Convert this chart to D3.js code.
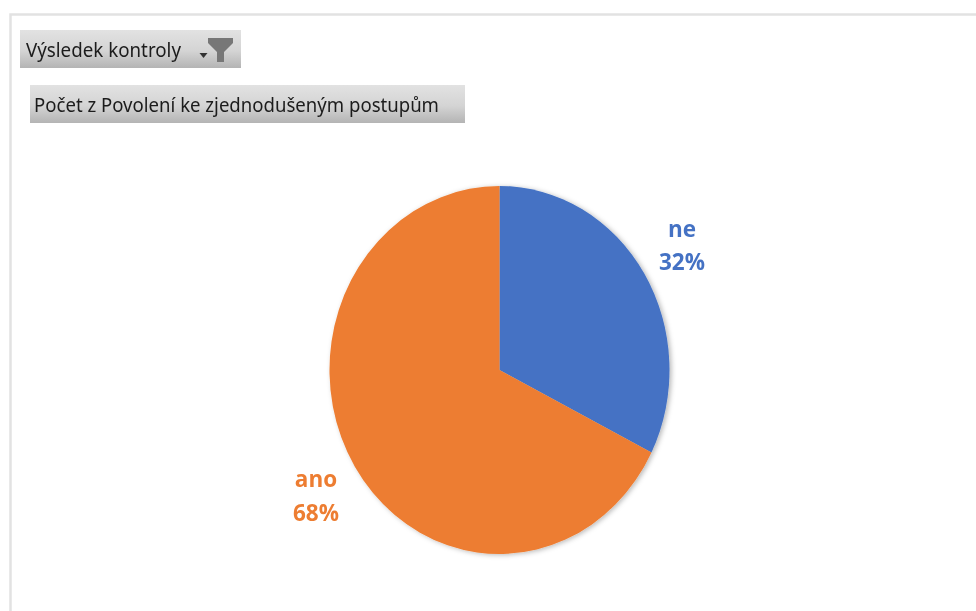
<!DOCTYPE html>
<html><head><meta charset="utf-8">
<script src="https://cdn.jsdelivr.net/npm/d3@7"></script>
<style>html,body{margin:0;padding:0;background:#fff;overflow:hidden}svg{display:block}</style>
</head><body><div id="c"></div>
<script>
const categories = ["ne", "ano"];
const values = [32.4, 67.6];
const percentLabels = ["32%", "68%"];
const colors = ["#4472c4", "#ed7d31"];
const filterTitle = "Výsledek kontroly";
const fieldTitle = "Počet z Povolení ke zjednodušeným postupům";

const svg = d3.select("#c").append("svg").attr("width", 976).attr("height", 611);
const defs = svg.append("defs");
const g1 = defs.append("linearGradient").attr("id", "btn").attr("x1", 0).attr("y1", 0).attr("x2", 0).attr("y2", 1);
g1.append("stop").attr("offset", "0%").attr("stop-color", "#e2e2e2");
g1.append("stop").attr("offset", "55%").attr("stop-color", "#d4d4d4");
g1.append("stop").attr("offset", "100%").attr("stop-color", "#b4b4b4");
const shadow = defs.append("filter").attr("id", "sh").attr("x", "-5%").attr("y", "-5%").attr("width", "110%").attr("height", "110%");
shadow.append("feDropShadow").attr("dx", 2).attr("dy", 1).attr("stdDeviation", 2.5)
  .attr("flood-color", "#000").attr("flood-opacity", 0.28);
defs.append("filter").attr("id", "soft").append("feGaussianBlur").attr("stdDeviation", 0.6);
defs.append("filter").attr("id", "softText").append("feGaussianBlur").attr("stdDeviation", 0.35);

// frame
svg.append("path").attr("d", "M10.5,611V14.5H976").attr("fill", "none").attr("stroke", "#e2e2e2").attr("stroke-width", 2.5);

// buttons
svg.append("rect").attr("x", 20).attr("y", 30).attr("width", 221).attr("height", 38).attr("fill", "url(#btn)");
svg.append("rect").attr("x", 30).attr("y", 85).attr("width", 435).attr("height", 38).attr("fill", "url(#btn)");
const btnFont = "'Noto Sans', sans-serif";
svg.append("text").attr("x", 26).attr("y", 57).attr("font-family", btnFont).attr("font-size", 20)
  .attr("fill", "#1c1c1c").attr("textLength", 155).attr("lengthAdjust", "spacingAndGlyphs").attr("filter", "url(#softText)").text(filterTitle);
svg.append("text").attr("x", 34).attr("y", 112).attr("font-family", btnFont).attr("font-size", 20)
  .attr("fill", "#1c1c1c").attr("textLength", 405).attr("lengthAdjust", "spacingAndGlyphs").attr("filter", "url(#softText)").text(fieldTitle);
// filter icon
const icons = svg.append("g").attr("filter", "url(#soft)");
icons.append("path").attr("d", "M208,38H233V43L224,52V62H217V52L208,43Z").attr("fill", "#777");
icons.append("path").attr("d", "M199.5,53H207.5L203.5,58Z").attr("fill", "#333");

// pie
const cx = 499.5, cy = 370, rx = 170, ry = 184;
const pie = d3.pie().sort(null).value(d => d)(values);
const arc = d3.arc().innerRadius(0).outerRadius(1);
const pieG = svg.append("g").attr("filter", "url(#sh)")
  .append("g").attr("transform", `translate(${cx},${cy}) scale(${rx},${ry})`);
pieG.selectAll("path").data(pie).join("path")
  .attr("d", arc).attr("fill", (d, i) => colors[i]);

// labels
const labelPos = [[682, 237, 270], [316, 487, 521]];
const labelFont = "'Open Sans', 'Noto Sans', sans-serif";
categories.forEach((c, i) => {
  const [x, y1, y2] = labelPos[i];
  [[c, y1], [percentLabels[i], y2]].forEach(([t, y]) => {
    svg.append("text").attr("x", x).attr("y", y).attr("text-anchor", "middle")
      .attr("font-family", labelFont).attr("font-weight", 700).attr("font-size", 22.5)
      .attr("fill", colors[i]).attr("filter", "url(#softText)").text(t);
  });
});
</script></body></html>
